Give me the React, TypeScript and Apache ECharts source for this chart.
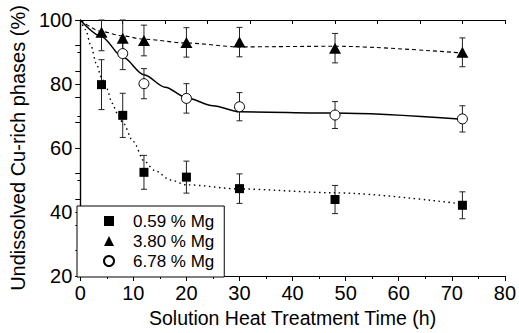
import React, { useEffect, useRef } from "react";
import * as echarts from "echarts";

// Measured points
const times059 = [4, 8, 12, 20, 30, 48, 72];
const mg059 = [79.8, 70.2, 52.4, 50.9, 47.3, 43.9, 42.1];
const mg059Err = [7.8, 6.9, 5.3, 5.0, 4.6, 4.4, 4.2];

const times380 = [4, 8, 12, 20, 30, 48, 72];
const mg380 = [96.2, 94.3, 93.6, 93.0, 93.1, 91.2, 89.9];
const mg380Err = [5.8, 6.0, 4.8, 4.6, 4.6, 4.6, 4.5];

const times678 = [8, 12, 20, 30, 48, 72];
const mg678 = [89.5, 80.1, 75.5, 72.9, 70.3, 69.1];
const mg678Err = [5.0, 4.7, 4.6, 4.4, 4.2, 4.1];

// Fitted curves
const fit059X = [0, 1, 2, 3, 4, 5, 6, 7, 8, 10, 12, 14, 17, 20, 30, 48, 72];
const fit059Y = [100, 97, 92, 86.5, 82, 78.5, 74, 70.8, 68, 62, 56, 53, 50, 48.5, 47.2, 46, 42.5];

const fit380X = [0, 4, 8, 12, 20, 30, 48, 72];
const fit380Y = [100, 96.4, 95, 94, 92.8, 91.6, 91.8, 89.7];

const fit678X = [0, 4, 8, 12, 16, 20, 25, 30, 48, 72];
const fit678Y = [100, 94.8, 88.4, 82.9, 79, 75.7, 73.2, 71.3, 70.9, 69];

const seriesNames = ["0.59 % Mg", "3.80 % Mg", "6.78 % Mg"];
const xTitle = "Solution Heat Treatment Time (h)";
const yTitle = "Undissolved Cu-rich phases (%)";

const FONT = "'Liberation Sans', Arial, Helvetica, sans-serif";

function zip(a: number[], b: number[]) {
  return a.map((v, i) => [v, b[i]]);
}

function errSeries(xs: number[], ys: number[], es: number[]) {
  return {
    type: "custom",
    xAxisIndex: 0,
    yAxisIndex: 0,
    z: 2,
    silent: true,
    data: xs.map((x, i) => [x, ys[i], es[i]]),
    encode: { x: 0, y: 1 },
    renderItem: (params: any, api: any) => {
      const x = api.value(0);
      const y = api.value(1);
      const e = api.value(2);
      const p1 = api.coord([x, y + e]);
      const p2 = api.coord([x, y - e]);
      const cs = params.coordSys;
      const yTop = Math.max(p1[1], cs.y);
      const yBot = Math.min(p2[1], cs.y + cs.height);
      const hw = 3;
      const st = { stroke: "#222", lineWidth: 1 };
      return {
        type: "group",
        children: [
          { type: "line", shape: { x1: p1[0], y1: yTop, x2: p1[0], y2: yBot }, style: st },
          { type: "line", shape: { x1: p1[0] - hw, y1: yTop, x2: p1[0] + hw, y2: yTop }, style: st },
          { type: "line", shape: { x1: p1[0] - hw, y1: yBot, x2: p1[0] + hw, y2: yBot }, style: st },
        ],
      };
    },
  };
}

export default function App() {
  const ref = useRef<HTMLDivElement>(null);
  useEffect(() => {
    if (!ref.current) return;
    const chart = echarts.init(ref.current, undefined, { renderer: "svg" });
    const axisLine = { show: true, lineStyle: { color: "#000", width: 1.2 } };
    chart.setOption({
      animation: false,
      backgroundColor: "#fff",
      textStyle: { fontFamily: FONT },
      grid: { left: 77, right: 11, top: 20, bottom: 55, containLabel: false },
      xAxis: [
        {
          type: "value",
          position: "bottom",
          min: 0,
          max: 80,
          interval: 10,
          axisLine,
          axisTick: { show: true, inside: false, length: 5, lineStyle: { color: "#000" } },
          minorTick: { show: true, splitNumber: 2, length: 3, lineStyle: { color: "#000" } },
          splitLine: { show: false },
          axisLabel: { fontSize: 20, color: "#000", margin: 7, fontFamily: FONT },
          name: xTitle,
          nameLocation: "middle",
          nameGap: 32,
          nameTextStyle: { fontSize: 19.5, color: "#000", fontFamily: FONT },
        },
        {
          type: "value",
          position: "top",
          min: 0,
          max: 10,
          interval: 1,
          axisLine,
          axisTick: { show: true, inside: true, length: 4, lineStyle: { color: "#000" } },
          axisLabel: { show: false },
          splitLine: { show: false },
        },
      ],
      yAxis: [
        {
          type: "value",
          position: "left",
          min: 20,
          max: 100,
          interval: 20,
          axisLine,
          axisTick: { show: true, inside: false, length: 5, lineStyle: { color: "#000" } },
          minorTick: { show: true, splitNumber: 2, length: 3, lineStyle: { color: "#000" } },
          splitLine: { show: false },
          axisLabel: { fontSize: 20, color: "#000", margin: 8, fontFamily: FONT },
          name: yTitle,
          nameLocation: "middle",
          nameGap: 44,
          nameTextStyle: { fontSize: 20, color: "#000", fontFamily: FONT },
        },
        {
          type: "value",
          position: "right",
          min: 0,
          max: 10,
          interval: 1,
          axisLine,
          axisTick: { show: true, inside: true, length: 5, lineStyle: { color: "#000" } },
          axisLabel: { show: false },
          splitLine: { show: false },
        },
      ],
      legend: {
        orient: "vertical",
        left: 77,
        top: 206,
        z: 10,
        backgroundColor: "#fff",
        borderColor: "#000",
        borderWidth: 1,
        borderRadius: 0,
        padding: [6, 10, 7, 26],
        itemGap: 2,
        itemWidth: 10,
        itemHeight: 10,
        textStyle: {
          fontSize: 17,
          lineHeight: 18,
          color: "#000",
          fontFamily: FONT,
          padding: [0, 0, 0, 14],
        },
        data: [
          { name: seriesNames[0], icon: "rect" },
          { name: seriesNames[1], icon: "triangle" },
          { name: seriesNames[2], icon: "circle" },
        ],
        selectedMode: false,
      },
      series: [
        {
          type: "line",
          data: zip(fit059X, fit059Y),
          showSymbol: false,
          smooth: 0.3,
          smoothMonotone: "x",
          z: 1,
          silent: true,
          lineStyle: { color: "#000", width: 1.4, type: [1.5, 3.5] },
        },
        {
          type: "line",
          data: zip(fit380X, fit380Y),
          showSymbol: false,
          smooth: 0.3,
          smoothMonotone: "x",
          z: 1,
          silent: true,
          lineStyle: { color: "#000", width: 1.1, type: [4, 3] },
        },
        {
          type: "line",
          data: zip(fit678X, fit678Y),
          showSymbol: false,
          smooth: 0.3,
          smoothMonotone: "x",
          z: 1,
          silent: true,
          lineStyle: { color: "#000", width: 1.5, type: "solid" },
        },
        errSeries(times059, mg059, mg059Err),
        errSeries(times380, mg380, mg380Err),
        errSeries(times678, mg678, mg678Err),
        {
          name: seriesNames[0],
          type: "scatter",
          z: 3,
          symbol: "rect",
          symbolSize: 9,
          itemStyle: { color: "#000", opacity: 1 },
          data: zip(times059, mg059),
        },
        {
          name: seriesNames[1],
          type: "scatter",
          z: 3,
          symbol: "triangle",
          symbolSize: [12, 11],
          itemStyle: { color: "#000", opacity: 1 },
          data: zip(times380, mg380),
        },
        {
          name: seriesNames[2],
          type: "scatter",
          z: 3,
          symbol: "circle",
          symbolSize: 10,
          itemStyle: { color: "#fff", borderColor: "#000", borderWidth: 1, opacity: 1 },
          data: zip(times678, mg678),
        },
      ],
    });
    return () => chart.dispose();
  }, []);
  return (
    <div
      ref={ref}
      style={{ position: "fixed", left: 0, top: 0, width: 519, height: 333, background: "#fff" }}
    />
  );
}
